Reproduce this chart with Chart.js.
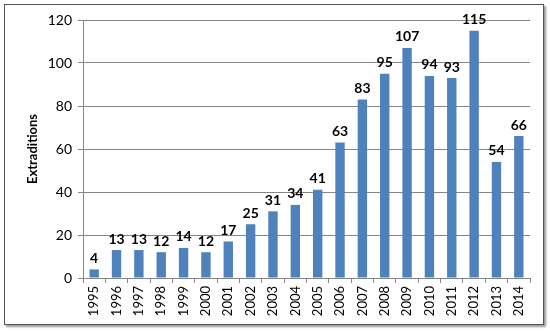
<!DOCTYPE html>
<html>
<head>
<meta charset="utf-8">
<script src="https://cdn.jsdelivr.net/npm/chart.js@4"></script>
<style>
  body { margin: 0; background: #fff; }
  #frame {
    position: absolute; left: 4px; top: 4px; width: 538px; height: 319px;
    border: 1.5px solid #555; box-shadow: 2px 2px 2px #999;
  }
  #wrap { position: absolute; left: 0; top: 0; width: 550px; height: 331px; }
</style>
</head>
<body>
<div id="frame"></div>
<div id="wrap"><canvas id="myChart" width="550" height="331"></canvas></div>
<script>
var years = ['1995', '1996', '1997', '1998', '1999', '2000', '2001', '2002', '2003', '2004',
             '2005', '2006', '2007', '2008', '2009', '2010', '2011', '2012', '2013', '2014'];
var extraditions = [4, 13, 13, 12, 14, 12, 17, 25, 31, 34, 41, 63, 83, 95, 107, 94, 93, 115, 54, 66];
var yTicks = [0, 20, 40, 60, 80, 100, 120];

var fontFamily = 'Lato, "Open Sans", sans-serif';

// draws the value above each bar
var barLabels = {
    id: 'barLabels',
    afterDatasetsDraw: function(chart) {
        var ctx = chart.ctx;
        var meta = chart.getDatasetMeta(0);
        ctx.save();
        ctx.font = 'bold 14px ' + fontFamily;
        ctx.fillStyle = '#000';
        ctx.textAlign = 'center';
        ctx.textBaseline = 'bottom';
        meta.data.forEach(function(bar, i) {
            ctx.fillText(extraditions[i], bar.x, bar.y - 4);
        });
        ctx.restore();
    }
};

var ctx = document.getElementById('myChart');
var myChart = new Chart(ctx, {
    type: 'bar',
    data: {
        labels: years,
        datasets: [{
            data: extraditions,
            backgroundColor: '#4F81BD',
            barPercentage: 0.42,
            categoryPercentage: 1
        }]
    },
    options: {
        responsive: false,
        animation: false,
        layout: { padding: { top: 20, right: 20, bottom: 8, left: 25 } },
        plugins: { legend: { display: false }, tooltip: { enabled: false } },
        scales: {
            x: {
                grid: { display: true, drawOnChartArea: false, offset: true, color: '#868686', tickLength: 5 },
                border: { color: '#868686' },
                ticks: { color: '#000', font: { family: fontFamily, size: 13 }, minRotation: 90, maxRotation: 90, padding: 3 },
                afterFit: function(scale) { scale.height = 331 - 278 - 8; }
            },
            y: {
                min: 0, max: 120,
                afterBuildTicks: function(scale) { scale.ticks = yTicks.map(function(v) { return { value: v }; }); },
                grid: { color: '#868686', tickLength: 5 },
                border: { color: '#868686' },
                ticks: { color: '#000', font: { family: fontFamily, size: 14 }, padding: 6 },
                title: { display: true, text: 'Extraditions', color: '#000', font: { family: fontFamily, size: 13, weight: 'bold' }, padding: { top: 0, bottom: 10 } },
                afterFit: function(scale) { scale.width = 58; }
            }
        }
    },
    plugins: [barLabels]
});
</script>
</body>
</html>
